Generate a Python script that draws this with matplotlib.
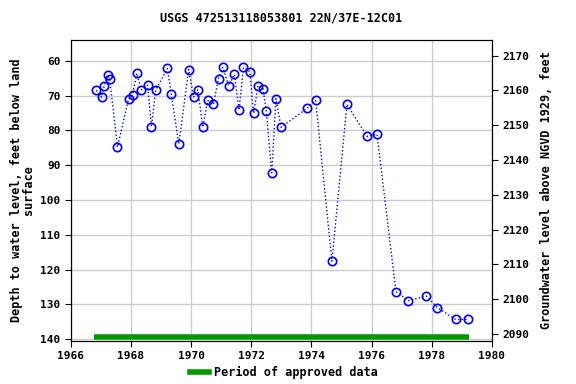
import matplotlib
matplotlib.use("Agg")
import matplotlib.pyplot as plt
from matplotlib.lines import Line2D

# measurement dates (decimal years) and depth to water (ft below land surface)
years = [1966.85, 1967.02, 1967.11, 1967.22, 1967.29, 1967.55, 1967.92, 1968.05,
         1968.19, 1968.34, 1968.55, 1968.68, 1968.82, 1969.21, 1969.34, 1969.59,
         1969.92, 1970.08, 1970.22, 1970.39, 1970.55, 1970.74, 1970.91, 1971.05,
         1971.25, 1971.44, 1971.59, 1971.74, 1971.95, 1972.08, 1972.22, 1972.39,
         1972.50, 1972.68, 1972.82, 1972.99, 1973.86, 1974.14, 1974.68, 1975.18,
         1975.85, 1976.18, 1976.81, 1977.22, 1977.82, 1978.19, 1978.79, 1979.19]
depths = [68.5, 70.5, 67.1, 64.1, 65.1, 84.8, 70.9, 69.9,
          63.6, 68.3, 67.0, 78.9, 68.5, 62.2, 69.6, 83.9,
          62.5, 70.5, 68.3, 79.1, 71.4, 72.5, 65.1, 61.9,
          67.1, 63.9, 74.2, 61.9, 63.1, 75.1, 67.1, 68.0,
          74.5, 92.2, 70.9, 79.1, 73.6, 71.4, 117.6, 72.5,
          81.7, 81.1, 126.3, 128.9, 127.6, 130.9, 134.3, 134.3]
approved = [1966.78, 1979.24]
land_surface = 2228.5
xticks = list(range(1966, 1981, 2))
yticks = list(range(60, 141, 10))
rticks = list(range(2090, 2171, 10))

font = "DejaVu Sans Mono"
fig = plt.figure(figsize=(5.76, 3.84), dpi=100)
ax = fig.add_axes([0.123, 0.112, 0.731, 0.784])

ax.plot(years, depths, color="blue", linestyle=":", linewidth=1.0,
        marker="o", markersize=6, markerfacecolor="none",
        markeredgecolor="blue", markeredgewidth=1.2, zorder=3)
ax.plot(approved, [139.3, 139.3], color="#009900", linewidth=4, solid_capstyle="butt", zorder=2)

ax.set_xlim(1966, 1980)
ax.set_ylim(140.5, 54)
ax.set_xticks(xticks)
ax.set_yticks(yticks)
ax.grid(True, color="#cccccc", linewidth=1)
ax.set_axisbelow(True)
ax.tick_params(labelsize=8, length=4, direction="out")
for lab in ax.get_xticklabels() + ax.get_yticklabels():
    lab.set_fontfamily(font)
    lab.set_fontweight("bold")
ax.set_ylabel("Depth to water level, feet below land\nsurface", fontsize=8.5,
              family=font, fontweight="bold", linespacing=0.9)
ax.set_title("USGS 472513118053801 22N/37E-12C01", fontsize=8.5,
             family=font, fontweight="bold", pad=13)

ax2 = ax.twinx()
ax2.set_ylim(land_surface - 140.5, land_surface - 54)
ax2.set_yticks(rticks)
ax2.tick_params(labelsize=8, length=4, direction="out")
for lab in ax2.get_yticklabels():
    lab.set_fontfamily(font)
    lab.set_fontweight("bold")
ax2.set_ylabel("Groundwater level above NGVD 1929, feet", fontsize=8.5,
               family=font, fontweight="bold", labelpad=8)

handle = Line2D([], [], color="#009900", linewidth=4)
fig.legend([handle], ["Period of approved data"], loc="center",
           bbox_to_anchor=(0.493, 0.03), frameon=False,
           prop={"family": font, "weight": "bold", "size": 8.5},
           handlelength=1.6, handletextpad=0.5)

fig.savefig("out.png", dpi=100)
